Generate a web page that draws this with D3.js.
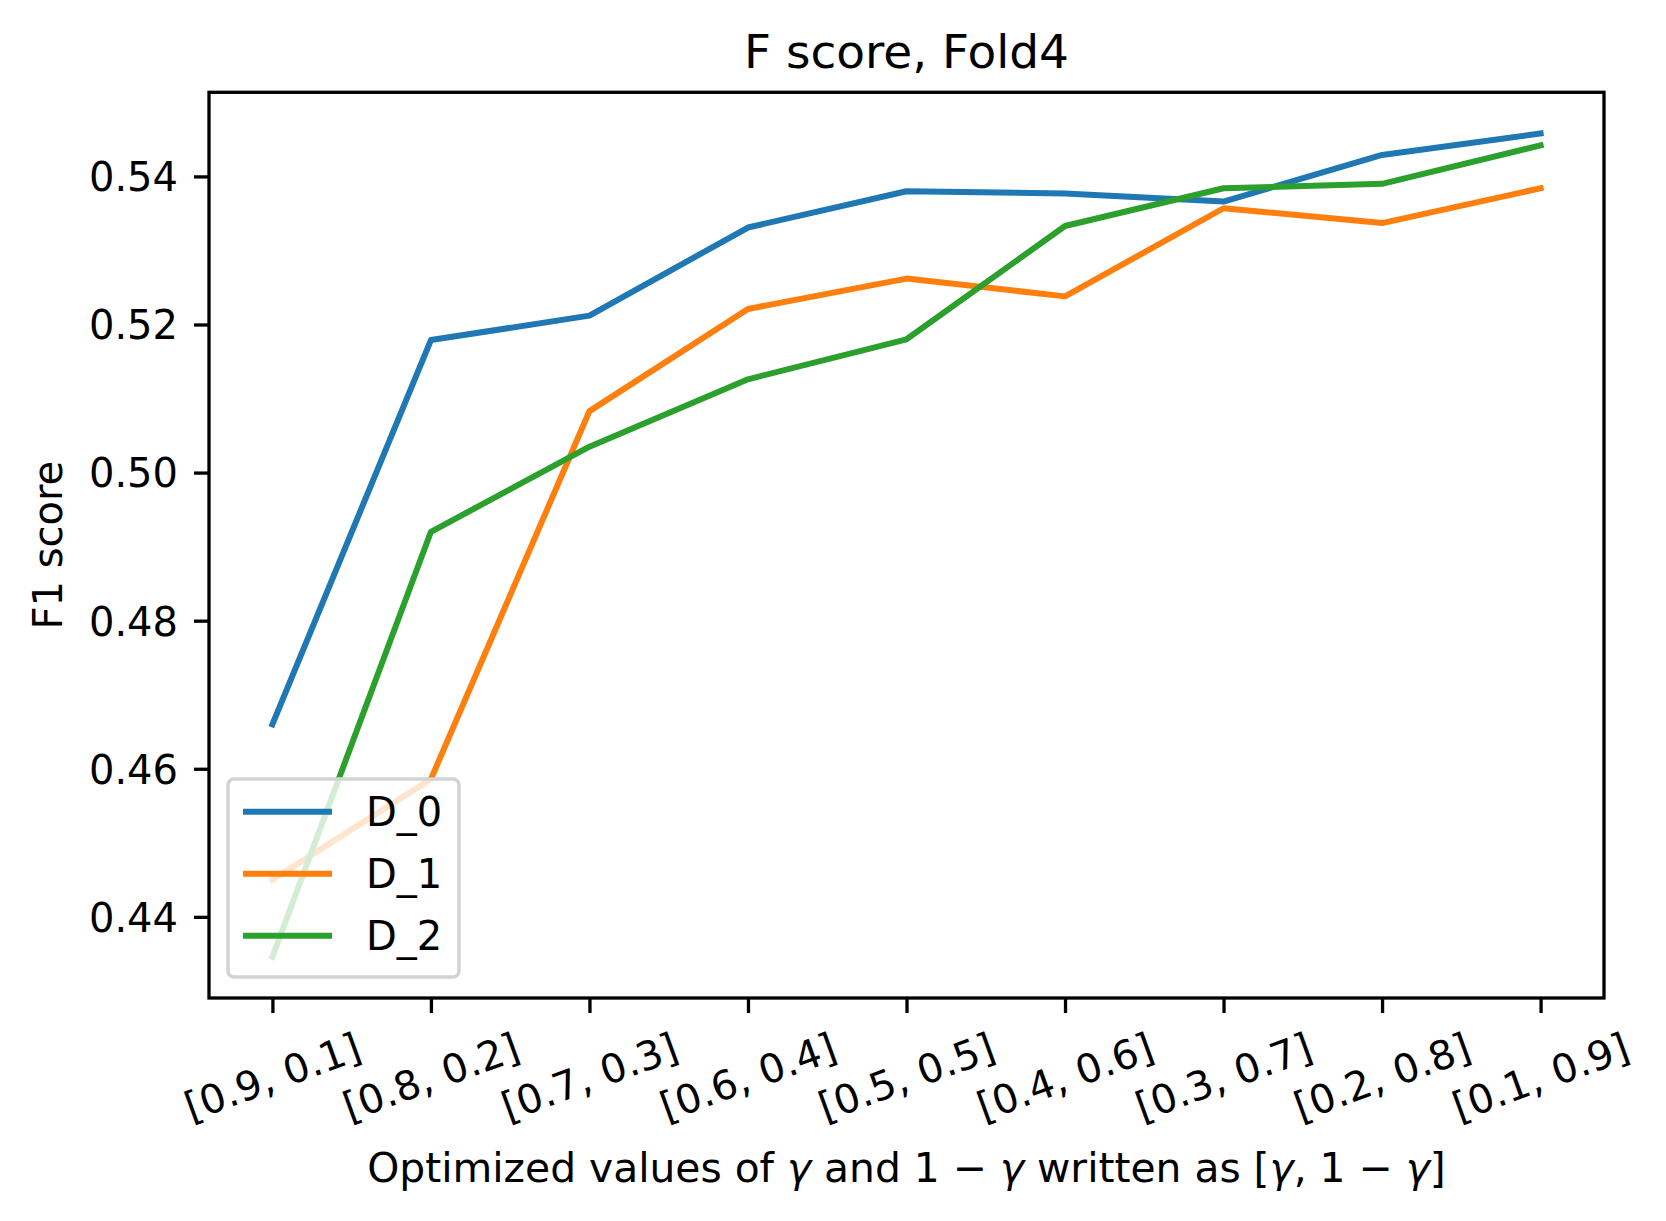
<!DOCTYPE html>
<html>
<head>
<meta charset="utf-8">
<script src="https://cdn.jsdelivr.net/npm/d3@7"></script>
<style>
  body { margin: 0; background: #fff; }
  svg text { font-family: "DejaVu Sans", sans-serif; fill: #000; }
</style>
</head>
<body>
<svg id="chart"></svg>
<script>
// tick labels along x
var categories = ["[0.9, 0.1]", "[0.8, 0.2]", "[0.7, 0.3]", "[0.6, 0.4]", "[0.5, 0.5]",
                  "[0.4, 0.6]", "[0.3, 0.7]", "[0.2, 0.8]", "[0.1, 0.9]"];

// F1 score per series
var d0 = [0.4660, 0.5179, 0.5212, 0.5331, 0.5380, 0.5377, 0.5366, 0.5429, 0.5458];
var d1 = [0.4450, 0.4586, 0.5083, 0.5221, 0.5262, 0.5238, 0.5357, 0.5337, 0.5384];
var d2 = [0.4346, 0.4920, 0.5035, 0.5126, 0.5180, 0.5333, 0.5384, 0.5390, 0.5442];

var seriesNames = ["D_0", "D_1", "D_2"];
var yTicks = [0.44, 0.46, 0.48, 0.50, 0.52, 0.54];

var colors = ["#1f77b4", "#ff7f0e", "#2ca02c"];
var series = [d0, d1, d2].map(function(vals, i) {
  return { name: seriesNames[i], color: colors[i], values: vals };
});

var width = 1666, height = 1221;
var plot = { left: 209, right: 1604, top: 92.3, bottom: 998 };

var svg = d3.select("#chart")
  .attr("width", width)
  .attr("height", height);

// x: categorical, 5% margin like matplotlib
var xScale = d3.scalePoint()
  .domain(categories)
  .range([plot.left, plot.right])
  .padding(0.4);

var all = d3.merge([d0, d1, d2]);
var ext = d3.extent(all);
var marg = (ext[1] - ext[0]) * 0.05;
var yScale = d3.scaleLinear()
  .domain([ext[0] - marg, ext[1] + marg])
  .range([plot.bottom, plot.top]);

svg.append("clipPath")
  .attr("id", "clip")
  .append("rect")
    .attr("x", plot.left)
    .attr("y", plot.top)
    .attr("width", plot.right - plot.left)
    .attr("height", plot.bottom - plot.top);

var line = d3.line()
  .x(function(d, i) { return xScale(categories[i]); })
  .y(function(d) { return yScale(d); });

svg.append("g")
  .attr("clip-path", "url(#clip)")
  .selectAll("path")
  .data(series)
  .enter()
  .append("path")
    .attr("d", function(d) { return line(d.values); })
    .attr("fill", "none")
    .attr("stroke", function(d) { return d.color; })
    .attr("stroke-width", 6)
    .attr("stroke-linejoin", "round")
    .attr("stroke-linecap", "square");

// axes
var yAxis = svg.append("g")
  .attr("transform", "translate(" + plot.left + ",0)")
  .call(d3.axisLeft(yScale)
    .tickValues(yTicks)
    .tickSize(15)
    .tickPadding(14)
    .tickFormat(d3.format(".2f")));

yAxis.select(".domain").remove();
yAxis.selectAll(".tick line").attr("stroke", "#000").attr("stroke-width", 3.3);
yAxis.selectAll(".tick text")
  .attr("font-size", 40)
  .attr("dy", "0.36em")
  .attr("x", -31);

var xAxis = svg.append("g")
  .attr("transform", "translate(0," + plot.bottom + ")")
  .call(d3.axisBottom(xScale).tickSize(15));

xAxis.select(".domain").remove();
xAxis.selectAll(".tick line").attr("stroke", "#000").attr("stroke-width", 3.3);
xAxis.selectAll(".tick text")
  .attr("font-size", 40)
  .attr("text-anchor", "middle")
  .attr("y", 0)
  .attr("dy", "0.32em")
  .attr("transform", "translate(0,80) rotate(-20)");

// frame
svg.append("rect")
  .attr("x", plot.left)
  .attr("y", plot.top)
  .attr("width", plot.right - plot.left)
  .attr("height", plot.bottom - plot.top)
  .attr("fill", "none")
  .attr("stroke", "#000")
  .attr("stroke-width", 3.3);

// title and labels
svg.append("text")
  .attr("x", (plot.left + plot.right) / 2)
  .attr("y", 68)
  .attr("text-anchor", "middle")
  .attr("font-size", 47)
  .text("F score, Fold4");

svg.append("text")
  .attr("transform", "translate(62," + ((plot.top + plot.bottom) / 2) + ") rotate(-90)")
  .attr("text-anchor", "middle")
  .attr("font-size", 40)
  .text("F1 score");

var xl = svg.append("text")
  .attr("x", (plot.left + plot.right) / 2)
  .attr("y", 1182)
  .attr("text-anchor", "middle")
  .attr("font-size", 40.8);
var parts = [["Optimized values of ", false], ["γ", true], [" and 1 − ", false], ["γ", true],
             [" written as [", false], ["γ", true], [", 1 − ", false], ["γ", true], ["]", false]];
parts.forEach(function(p) {
  xl.append("tspan")
    .attr("font-style", p[1] ? "italic" : null)
    .text(p[0]);
});

// legend
var legend = svg.append("g").attr("transform", "translate(228,779)");
legend.append("rect")
  .attr("width", 231)
  .attr("height", 198)
  .attr("rx", 6)
  .attr("fill", "#fff")
  .attr("fill-opacity", 0.8)
  .attr("stroke", "#d3d3d3")
  .attr("stroke-width", 3.5);

var item = legend.selectAll(".item")
  .data(series)
  .enter()
  .append("g")
    .attr("class", "item")
    .attr("transform", function(d, i) { return "translate(0," + (32.7 + i * 62) + ")"; });

item.append("line")
  .attr("x1", 15)
  .attr("x2", 104)
  .attr("stroke", function(d) { return d.color; })
  .attr("stroke-width", 6);

item.append("text")
  .attr("x", 138)
  .attr("dy", "0.36em")
  .attr("font-size", 40)
  .text(function(d) { return d.name; });
</script>
</body>
</html>
